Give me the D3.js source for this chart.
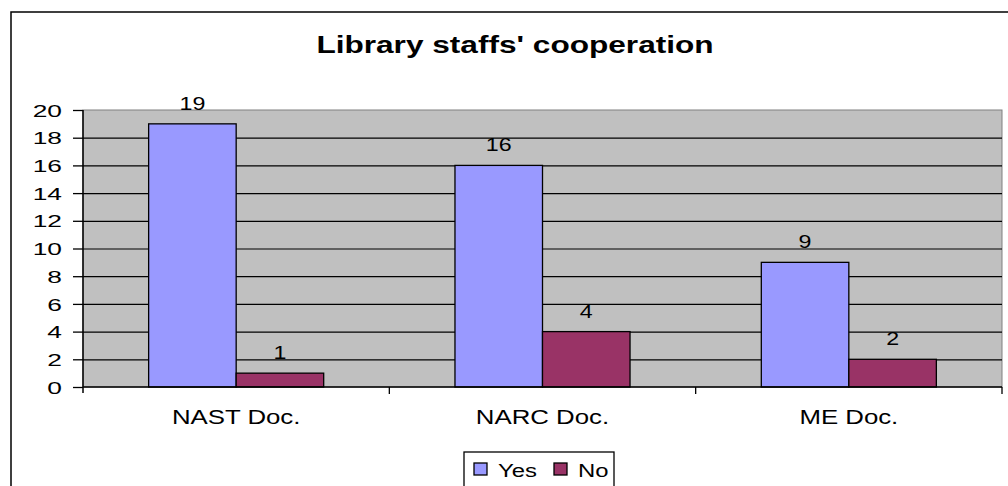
<html>
<head>
<meta charset="utf-8">
<title>Library staffs' cooperation</title>
<style>
  body { margin: 0; background: #fff; }
  text { font-family: "Liberation Sans", Arial, sans-serif; fill: #000; }
</style>
</head>
<body>
<svg id="chart" width="1008" height="486"></svg>
<script src="https://d3js.org/d3.v7.min.js"></script>
<script>
// data
var categories = ["NAST Doc.", "NARC Doc.", "ME Doc."];
var seriesNames = ["Yes", "No"];
var yesValues = [19, 16, 9];
var noValues = [1, 4, 2];
var yTicks = [0, 2, 4, 6, 8, 10, 12, 14, 16, 18, 20];
var title = "Library staffs' cooperation";

var colors = { Yes: "#9999FF", No: "#993366" };
var sx = 1.29; // the picture is stretched horizontally

var svg = d3.select("#chart");

// outer chart frame (runs off the right and bottom edge)
svg.append("rect")
    .attr("x", 11).attr("y", 12)
    .attr("width", 1012).attr("height", 492)
    .attr("fill", "none").attr("stroke", "#000").attr("stroke-width", 1.5);

var plot = { left: 83, top: 110, right: 1002, bottom: 387 };

var x0 = d3.scaleBand().domain(categories)
    .range([plot.left, plot.right]).paddingInner(0).paddingOuter(0);
var x1 = d3.scaleBand().domain(seriesNames)
    .range([0, x0.bandwidth()]).paddingInner(0).paddingOuter(0.75);
var y = d3.scaleLinear().domain([0, 20]).range([plot.bottom, plot.top]);

// plot background
svg.append("rect")
    .attr("x", plot.left).attr("y", plot.top)
    .attr("width", plot.right - plot.left).attr("height", plot.bottom - plot.top)
    .attr("fill", "#C0C0C0").attr("stroke", "#808080").attr("stroke-width", 1);

// gridlines
svg.append("g")
    .attr("transform", "translate(" + plot.left + ",0)")
    .call(d3.axisLeft(y).tickValues(yTicks.slice(1, -1))
        .tickSize(-(plot.right - plot.left)).tickFormat(""))
    .call(function(g) {
        g.select(".domain").remove();
        g.selectAll("line").attr("stroke", "#000").attr("stroke-width", 1.2);
    });

// bars
var rows = categories.map(function(c, i) {
    return { cat: c, vals: [
        { key: "Yes", v: yesValues[i] },
        { key: "No", v: noValues[i] }
    ] };
});

var groups = svg.selectAll("g.grp").data(rows).enter().append("g")
    .attr("class", "grp")
    .attr("transform", function(d) { return "translate(" + x0(d.cat) + ",0)"; });

groups.selectAll("rect").data(function(d) { return d.vals; }).enter().append("rect")
    .attr("x", function(d) { return x1(d.key); })
    .attr("y", function(d) { return y(d.v); })
    .attr("width", x1.bandwidth())
    .attr("height", function(d) { return y(0) - y(d.v); })
    .attr("fill", function(d) { return colors[d.key]; })
    .attr("stroke", "#000").attr("stroke-width", 1.3);

groups.selectAll("text").data(function(d) { return d.vals; }).enter().append("text")
    .attr("text-anchor", "middle")
    .attr("font-size", 18)
    .attr("transform", function(d) {
        return "translate(" + (x1(d.key) + x1.bandwidth() / 2) + "," + (y(d.v) - 14) + ") scale(" + sx + ",1)";
    })
    .text(function(d) { return d.v; });

// y axis
svg.append("g")
    .attr("transform", "translate(" + plot.left + ",0)")
    .call(d3.axisLeft(y).tickValues(yTicks).tickSize(10).tickPadding(0))
    .call(function(g) {
        g.select(".domain").attr("stroke", "#000").attr("stroke-width", 1.5)
            .attr("d", "M0," + (plot.top) + "V" + (plot.bottom + 6));
        g.selectAll("line").attr("stroke", "#000").attr("stroke-width", 1.3);
        g.selectAll("text")
            .attr("x", 0).attr("dy", "0.36em")
            .attr("font-size", 17).attr("font-family", "Liberation Sans, Arial, sans-serif")
            .attr("fill", "#000")
            .attr("transform", "translate(-21,0) scale(1.55,1)");
    });

// x axis
svg.append("g")
    .attr("transform", "translate(0," + plot.bottom + ")")
    .call(d3.axisBottom(x0).tickSize(0).tickFormat(""))
    .call(function(g) {
        g.select(".domain").attr("stroke", "#000").attr("stroke-width", 1.5)
            .attr("d", "M" + plot.left + ",0H" + plot.right);
        g.selectAll(".tick").remove();
    });

// category boundary ticks
svg.append("g").selectAll("line")
    .data(categories.slice(1).concat(["end"]))
    .enter().append("line")
    .attr("x1", function(d) { return d === "end" ? plot.right : x0(d); })
    .attr("x2", function(d) { return d === "end" ? plot.right : x0(d); })
    .attr("y1", plot.bottom).attr("y2", plot.bottom + 7)
    .attr("stroke", "#000").attr("stroke-width", 1.3);

// category labels
svg.append("g").selectAll("text").data(categories).enter().append("text")
    .attr("text-anchor", "middle")
    .attr("font-size", 20)
    .attr("transform", function(d) {
        return "translate(" + (x0(d) + x0.bandwidth() / 2) + ",424) scale(" + sx + ",1)";
    })
    .text(function(d) { return d; });

// title
svg.append("text")
    .attr("text-anchor", "middle")
    .attr("font-size", 24.5).attr("font-weight", "bold")
    .attr("transform", "translate(515,53) scale(" + sx + ",1)")
    .text(title);

// legend
var legend = svg.append("g");
legend.append("rect")
    .attr("x", 464).attr("y", 452).attr("width", 150).attr("height", 50)
    .attr("fill", "#fff").attr("stroke", "#000").attr("stroke-width", 1.3);

var legendX = d3.scaleOrdinal().domain(seriesNames).range([474, 554]);
var items = legend.selectAll("g.item").data(seriesNames).enter().append("g")
    .attr("class", "item")
    .attr("transform", function(d) { return "translate(" + legendX(d) + ",0)"; });
items.append("rect")
    .attr("x", 0).attr("y", 463).attr("width", 13).attr("height", 12)
    .attr("fill", function(d) { return colors[d]; })
    .attr("stroke", "#000").attr("stroke-width", 1.3);
items.append("text")
    .attr("font-size", 18.5)
    .attr("transform", "translate(24,477) scale(" + sx + ",1)")
    .text(function(d) { return d; });
</script>
</body>
</html>
